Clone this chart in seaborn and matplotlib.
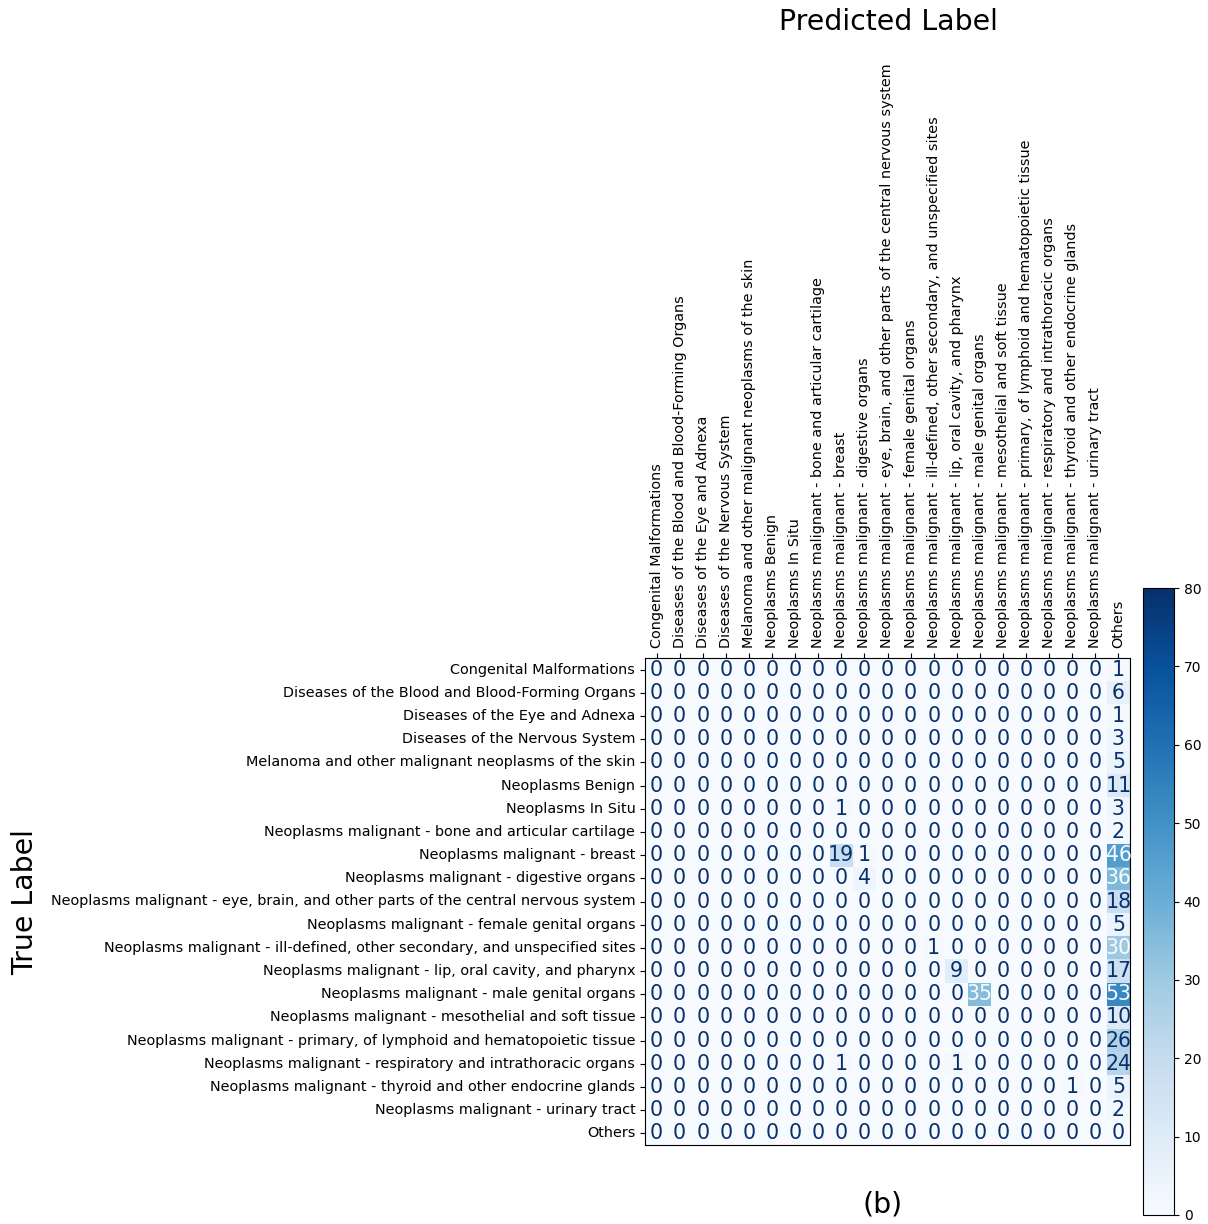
import numpy as np
import pandas as pd
import seaborn as sns
import matplotlib.pyplot as plt

# class names (same order for rows and columns)
labels = [
    'Congenital Malformations',
    'Diseases of the Blood and Blood-Forming Organs',
    'Diseases of the Eye and Adnexa',
    'Diseases of the Nervous System',
    'Melanoma and other malignant neoplasms of the skin',
    'Neoplasms Benign',
    'Neoplasms In Situ',
    'Neoplasms malignant - bone and articular cartilage',
    'Neoplasms malignant - breast',
    'Neoplasms malignant - digestive organs',
    'Neoplasms malignant - eye, brain, and other parts of the central nervous system',
    'Neoplasms malignant - female genital organs',
    'Neoplasms malignant - ill-defined, other secondary, and unspecified sites',
    'Neoplasms malignant - lip, oral cavity, and pharynx',
    'Neoplasms malignant - male genital organs',
    'Neoplasms malignant - mesothelial and soft tissue',
    'Neoplasms malignant - primary, of lymphoid and hematopoietic tissue',
    'Neoplasms malignant - respiratory and intrathoracic organs',
    'Neoplasms malignant - thyroid and other endocrine glands',
    'Neoplasms malignant - urinary tract',
    'Others',
]

# last column ("Others") counts per true label
others_col = [1, 6, 1, 3, 5, 11, 3, 2, 46, 36, 18, 5, 30, 17, 53, 10, 26, 24, 5, 2, 0]

# remaining non-zero cells: (true row, predicted col, count)
extra_cells = [
    (6, 8, 1),
    (8, 8, 19),
    (8, 9, 1),
    (9, 9, 4),
    (12, 12, 1),
    (13, 13, 9),
    (14, 14, 35),
    (17, 8, 1),
    (17, 13, 1),
    (18, 18, 1),
]

n = len(labels)
cm = np.zeros((n, n), dtype=int)
cm[:, -1] = others_col
for r, c, v in extra_cells:
    cm[r, c] = v
df_cm = pd.DataFrame(cm, index=labels, columns=labels)

fig = plt.figure(figsize=(12.08, 12.24), dpi=100)
ax = fig.add_axes([645 / 1208, 1 - 1145 / 1224, 485 / 1208, 487 / 1224])
cax = fig.add_axes([1143 / 1208, 1 - 1215 / 1224, 31 / 1208, 627 / 1224])

cmap = plt.get_cmap('Blues')
sns.heatmap(df_cm, ax=ax, cbar_ax=cax, cmap=cmap, vmin=0, vmax=80,
            annot=True, fmt='d', annot_kws={'fontsize': 14.8}, square=False)

# text colour like sklearn: dark on light cells, light on dark cells
thresh = (cm.max() + cm.min()) / 2.0
for txt in ax.texts:
    val = int(txt.get_text())
    txt.set_color(cmap(0.0) if val > thresh else cmap(1.0))

# ticks on top for predicted labels
ax.xaxis.tick_top()
ax.tick_params(axis='x', top=True, bottom=False, labeltop=True, labelbottom=False,
               labelrotation=90, labelsize=10.4, length=3.5)
ax.tick_params(axis='y', labelrotation=0, labelsize=10.4, length=3.5)
ax.set_xlabel('')
ax.set_ylabel('')

for s in ax.spines.values():
    s.set_visible(True)
    s.set_color('black')
    s.set_linewidth(0.8)

cb = ax.collections[0].colorbar
cb.outline.set_linewidth(0.8)
cb.outline.set_edgecolor('black')
cb.set_ticks([0, 10, 20, 30, 40, 50, 60, 70, 80])
cb.ax.tick_params(labelsize=10, length=3.5)

fig.text(888 / 1208, 1 - 22 / 1224, 'Predicted Label', fontsize=20.4, ha='center', va='center')
fig.text(25 / 1208, 1 - 902 / 1224, 'True Label', fontsize=20.4, rotation=90, ha='center', va='center')
fig.text(883 / 1208, 1 - 1205 / 1224, '(b)', fontsize=20.4, ha='center', va='center')

fig.savefig('out.png', dpi=100)
